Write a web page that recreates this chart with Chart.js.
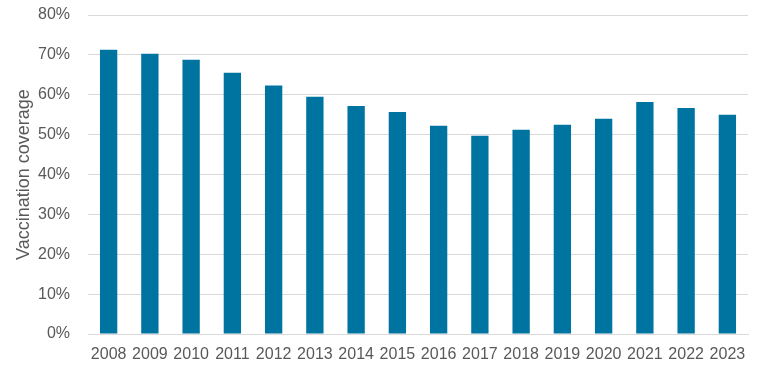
<!DOCTYPE html>
<html>
<head>
<meta charset="utf-8">
<script src="https://cdn.jsdelivr.net/npm/chart.js@4/dist/chart.umd.min.js"></script>
<style>
  html, body { margin: 0; padding: 0; background: #fff; }
  #wrap { width: 777px; height: 377px; }
</style>
</head>
<body>
<div id="wrap"><canvas id="chart" width="777" height="377"></canvas></div>
<script>
// ===== DATA =====
const years = ["2008", "2009", "2010", "2011", "2012", "2013", "2014", "2015",
               "2016", "2017", "2018", "2019", "2020", "2021", "2022", "2023"];
const coverage = [71.3, 70.3, 68.8, 65.5, 62.3, 59.5, 57.2, 55.7,
                  52.2, 49.7, 51.2, 52.5, 54.0, 58.2, 56.7, 55.0];
const yTicks = [0, 10, 20, 30, 40, 50, 60, 70, 80];

const textColor = "#595959";
const gridColor = "#d9d9d9";
const font = { family: "'Liberation Sans', Arial, sans-serif", size: 16 };

new Chart(document.getElementById("chart"), {
  type: "bar",
  data: {
    labels: years,
    datasets: [{
      label: "Vaccination coverage",
      data: coverage,
      backgroundColor: "#0074a0",
      categoryPercentage: 1,
      barPercentage: 0.42
    }]
  },
  options: {
    responsive: false,
    animation: false,
    layout: { padding: { top: 15, right: 29, bottom: 0, left: 0 } },
    plugins: {
      legend: { display: false },
      tooltip: { enabled: false }
    },
    scales: {
      x: {
        grid: { display: false, drawTicks: false },
        border: { display: true, color: gridColor, width: 1 },
        ticks: { color: textColor, font: font, padding: 11, maxRotation: 0 },
        afterFit: s => { s.height = 43; s.paddingLeft = 0; s.paddingRight = 0; }
      },
      y: {
        min: 0,
        max: 80,
        afterBuildTicks: s => { s.ticks = yTicks.map(v => ({ value: v })); },
        grid: { color: gridColor, drawTicks: false },
        border: { display: false },
        ticks: { color: textColor, font: font, padding: 18, callback: v => v + "%" },
        title: { display: true, text: "Vaccination coverage", color: textColor,
                 font: { family: font.family, size: 18 }, padding: { top: 13, bottom: 0 } },
        afterFit: s => { s.width = 88; s.paddingTop = 0; s.paddingBottom = 0; }
      }
    }
  }
});
</script>
</body>
</html>
